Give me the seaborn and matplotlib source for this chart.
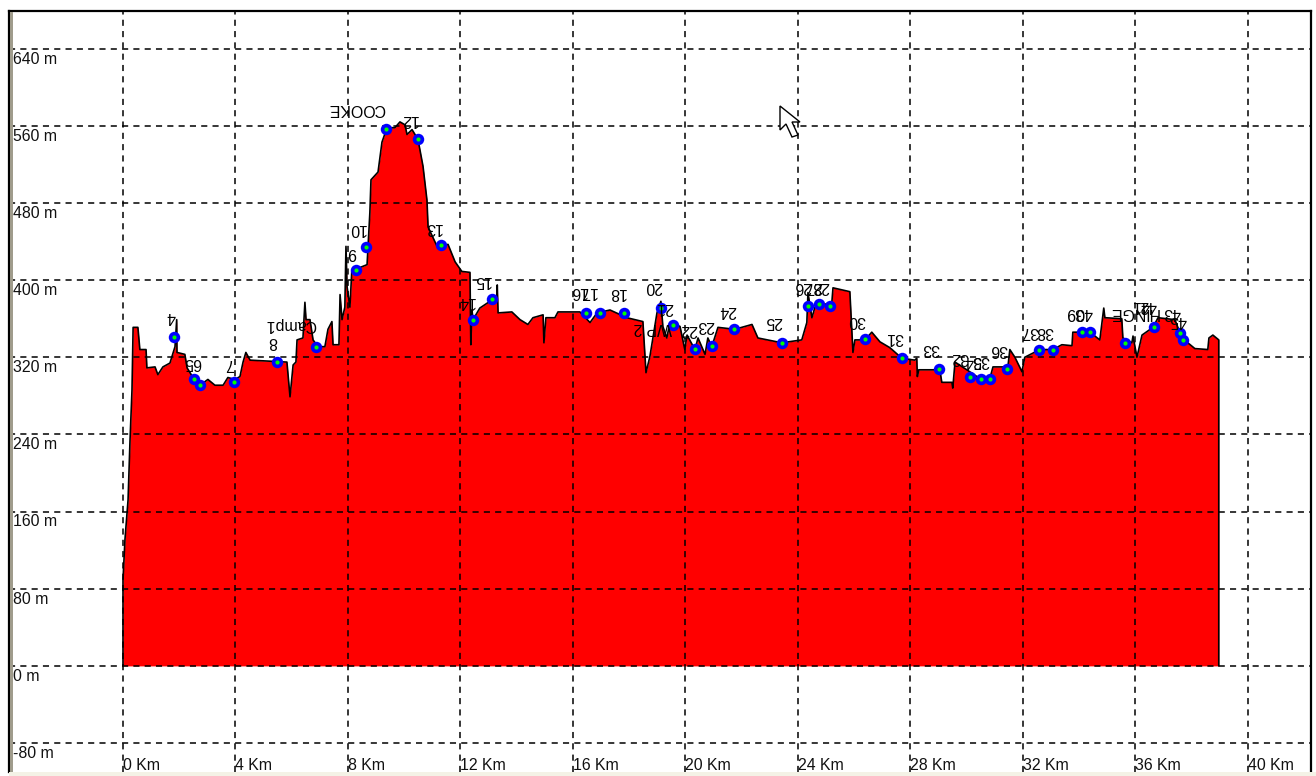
# -*- coding: utf-8 -*-
"""
elevation profile, screen grab style (labels upside down)
"""
import pandas as pd
import seaborn as sns
import matplotlib.pyplot as plt
from matplotlib.patches import Rectangle, Polygon
from matplotlib.transforms import IdentityTransform

# profile outline
dist_km = [0, 0, .07, .18, .25, .32, .36, .53, .60, .82, .85, 1.14, 1.24, 1.42, 1.67, 1.85, 1.91, 1.92, 2.20, 2.28,
           2.49, 2.74, 3.02, 3.27, 3.56, 3.73, 3.98, 4.16, 4.27, 4.37, 4.52, 5.83, 5.94, 6.05, 6.15, 6.19, 6.40, 6.47, 6.51, 6.65,
           6.76, 6.93, 7.18, 7.29, 7.43, 7.47, 7.68, 7.72, 7.79, 7.89, 7.93, 7.97, 8.07, 8.14, 8.25, 8.68, 8.78, 8.82, 9.07, 9.21,
           9.39, 9.67, 9.85, 10.03, 10.10, 10.28, 10.49, 10.67, 10.81, 10.85, 11.17, 11.56, 11.81, 12.05, 12.34, 12.37, 12.41, 12.45, 12.69, 13.05,
           13.30, 13.31, 13.34, 13.83, 14.12, 14.40, 14.58, 14.94, 14.97, 15.04, 15.36, 15.47, 16.25, 16.61, 16.86, 17.32, 17.92, 18.49, 18.60, 18.74,
           18.99, 19.13, 19.20, 19.34, 19.45, 19.81, 19.98, 20.06, 20.34, 20.45, 20.70, 20.80, 20.94, 21.16, 21.76, 22.37, 22.58, 23.43, 24.14, 24.32,
           24.36, 24.50, 24.61, 25.21, 25.25, 25.85, 25.96, 26.03, 26.39, 26.63, 26.92, 27.27, 27.70, 28.16, 28.23, 28.25, 28.30, 29.05, 29.12, 29.48,
           29.51, 29.59, 30.01, 30.47, 30.83, 30.94, 31.47, 31.54, 31.72, 31.97, 32.07, 32.61, 33.07, 33.39, 33.75, 33.78, 34.39, 34.74, 34.88, 34.92,
           35.52, 35.56, 35.88, 35.92, 36.06, 36.24, 36.63, 36.81, 37.41, 37.66, 38.12, 38.58, 38.62, 38.76, 38.97, 38.97]
alti_m = [0, 89, 131, 172, 234, 286, 351, 351, 328, 328, 309, 310, 302, 310, 314, 331, 359, 325, 323, 309,
          299, 291, 297, 291, 291, 299, 297, 300, 315, 325, 317, 315, 279, 312, 315, 338, 340, 377, 359, 359,
          338, 331, 331, 349, 357, 333, 333, 385, 359, 372, 435, 393, 372, 411, 411, 416, 470, 504, 512, 543,
          558, 558, 564, 561, 551, 556, 546, 518, 483, 455, 435, 437, 419, 409, 408, 333, 369, 359, 371, 378,
          380, 395, 366, 367, 359, 354, 361, 364, 335, 361, 361, 367, 367, 356, 366, 369, 361, 357, 304, 321,
          366, 378, 352, 340, 356, 352, 328, 343, 328, 340, 323, 340, 331, 351, 349, 354, 340, 335, 338, 356,
          387, 361, 372, 377, 392, 388, 325, 338, 338, 346, 336, 330, 319, 317, 319, 300, 307, 307, 294, 294,
          288, 315, 307, 298, 298, 310, 310, 328, 320, 305, 320, 328, 328, 333, 332, 346, 346, 338, 371, 361,
          360, 340, 335, 342, 320, 343, 351, 361, 359, 340, 329, 328, 340, 343, 338, 0]

# waypoints
wp_km = [1.81, 2.52, 2.74, 3.95, 5.48, 6.86, 8.29, 8.64, 9.35, 10.49, 11.31, 12.45, 13.12, 16.46, 16.96, 17.82, 19.13, 19.56, 20.34, 20.94,
         21.73, 23.43, 24.36, 24.75, 25.14, 26.39, 27.70, 29.02, 30.12, 30.51, 30.83, 31.43, 32.57, 33.07, 34.10, 34.39, 35.63, 36.66, 37.59, 37.69]
wp_m = [341, 297, 291, 294, 315, 331, 410, 434, 557, 546, 436, 359, 380, 366, 366, 366, 371, 353, 329, 332,
        349, 335, 373, 375, 373, 339, 319, 308, 300, 297, 297, 308, 328, 328, 346, 346, 335, 351, 345, 338]

# upside down labels
lab_text = ['4', '5', '6', '7', '8', 'Camp1', '9', '10', 'COOKE', '12', '13', '14', '15', '16', '17', '18', '20', '21', 'WP 2', '22',
            '23', '24', '25', '26', '27', '28', '30', '31', '33', '32', '34', '35', '36', '37', '38', '39', '40', 'HINGE', '41', '42', '43', '45']
lab_km = [1.71, 2.35, 2.63, 3.80, 5.33, 5.97, 8.14, 8.32, 8.32, 10.17, 11.02, 12.20, 12.77, 16.18, 16.54, 17.57, 18.85, 19.24, 18.85, 20.10,
          20.70, 21.48, 23.15, 24.18, 24.54, 24.82, 26.10, 27.45, 28.73, 29.76, 30.20, 30.50, 31.15, 32.25, 32.79, 33.85, 34.18, 35.95, 36.20, 36.45, 37.30, 37.52]
lab_m = [362, 315, 315, 314, 336, 354, 429, 454, 578, 566, 455, 378, 400, 388, 388, 387, 393, 372, 351, 349,
         353, 368, 357, 393, 393, 393, 358, 340, 329, 320, 317, 317, 328, 347, 347, 366, 366, 366, 374, 374, 366, 358]

x_ticks = list(range(0, 44, 4))
y_ticks = list(range(-80, 720, 80))

df = pd.DataFrame({'km': dist_km, 'm': alti_m})
wp = pd.DataFrame({'km': wp_km, 'm': wp_m})

sns.set_style('white')
plt.rcParams['font.family'] = ['Liberation Sans', 'DejaVu Sans']

W, H = 1316, 776
fig = plt.figure(figsize=(W/100, H/100), dpi=100, facecolor='white')
ax = fig.add_axes([9/W, (H-772)/H, (1311-9)/W, (772-11)/H])
ax.set_xlim(-4.054, 42.25)
ax.set_ylim(-110, 679)

ax.fill_between(df['km'], df['m'], 0, color='#ff0000', lw=0, zorder=1)
sns.lineplot(data=df, x='km', y='m', sort=False, estimator=None, color='black', lw=1.2, ax=ax, zorder=2)

ax.set_xticks(x_ticks)
ax.set_yticks(y_ticks)
ax.set_xticklabels([])
ax.set_yticklabels([])
ax.tick_params(length=0)
ax.set_axisbelow(False)
ax.grid(True, color='black', lw=1.1, ls=(0, (4, 3.4)), zorder=3)

sns.scatterplot(data=wp, x='km', y='m', color='#0000ff', s=68, linewidth=0, ax=ax, zorder=4, legend=False)
sns.scatterplot(data=wp, x='km', y='m', color='#00ff00', s=9, linewidth=0, ax=ax, zorder=5, legend=False)
ax.set_xlabel('')
ax.set_ylabel('')

fs = 11.4
for t, k, m in zip(lab_text, lab_km, lab_m):
    ax.text(k, m, t, rotation=180, ha='center', va='center', fontsize=fs, color='black', zorder=6)

# axis texts sit inside the plot
for v in y_ticks:
    if v > 640:
        continue
    ax.annotate(f'{v} m', xy=(0, v), xycoords=ax.get_yaxis_transform(), xytext=(3, -7.5),
                textcoords='offset points', ha='left', va='center', fontsize=fs, color='#111111', zorder=6)
for v in x_ticks:
    ax.annotate(f'{v} Km', xy=(v, 0), xycoords=ax.get_xaxis_transform(), xytext=(0, 5),
                textcoords='offset points', ha='left', va='center', fontsize=fs, color='#111111', zorder=6)

for s in ['top', 'right', 'left']:
    ax.spines[s].set_visible(True)
    ax.spines[s].set_color('black')
    ax.spines[s].set_linewidth(1.6)
ax.spines['bottom'].set_visible(False)

# window chrome: gray inner edge, cream strip, mouse pointer
fig.add_artist(Rectangle((10/W, (H-772)/H), 2.5/W, (772-12)/H, transform=fig.transFigure, color='#a09c8c', lw=0))
fig.add_artist(Rectangle((9/W, 0), (W-9)/W, 4/H, transform=fig.transFigure, color='#f4f2e6', lw=0))
cursor = [(780, 106), (780, 130), (786, 124), (792, 137), (798, 135), (792, 122), (800, 122)]
fig.add_artist(Polygon([(x, H-y) for x, y in cursor], closed=True, facecolor='white', edgecolor='black',
                       lw=1, transform=IdentityTransform(), zorder=10))

plt.savefig('out.png', dpi=100, facecolor='white')
